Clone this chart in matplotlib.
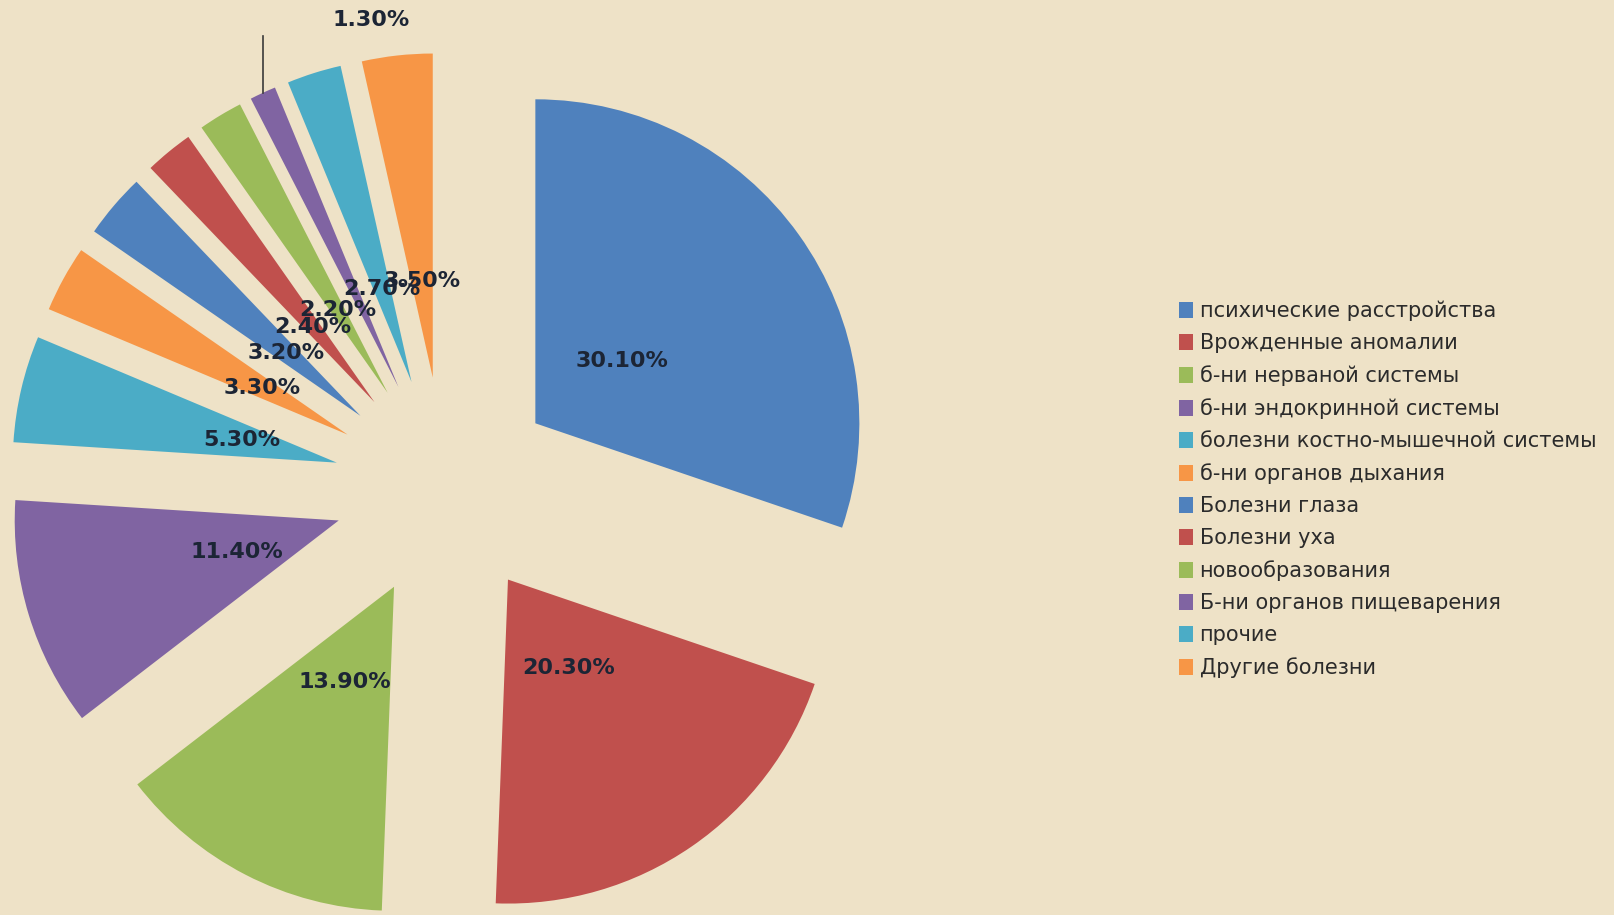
import numpy as np
import matplotlib
matplotlib.use('Agg')
import matplotlib.pyplot as plt
from matplotlib.patches import Patch

labels = ['психические расстройства', 'Врожденные аномалии', 'б-ни нерваной системы',
          'б-ни эндокринной системы', 'болезни костно-мышечной системы',
          'б-ни органов дыхания', 'Болезни глаза', 'Болезни уха', 'новообразования',
          'Б-ни органов пищеварения', 'прочие', 'Другие болезни']
values = [30.1, 20.3, 13.9, 11.4, 5.3, 3.3, 3.2, 2.4, 2.2, 1.3, 2.7, 3.5]
colors = ['#4F81BD', '#C0504D', '#9BBB59', '#8064A2', '#4BACC6', '#F79646'] * 2

W, H = 1614, 915
bg = '#EEE2C7'
fig = plt.figure(figsize=(W / 100, H / 100), dpi=100, facecolor=bg)

# pie centre and radius in pixels
cx, cy, R = 445, 488, 324
half = 1.6
ax = fig.add_axes([(cx - half * R) / W, 1 - (cy + half * R) / H, 2 * half * R / W, 2 * half * R / H])
ax.set_facecolor('none')

wedges, _ = ax.pie(values, colors=colors, startangle=90, counterclock=False,
                   explode=[0.343] * len(values), radius=1.0,
                   wedgeprops=dict(linewidth=0))
ax.set_xlim(-half, half)
ax.set_ylim(-half, half)
ax.axis('off')

txt_kw = dict(fontsize=16, fontweight='bold', color='#1C2535', ha='center', va='center')
for i, (w, v) in enumerate(zip(wedges, values)):
    mid = np.deg2rad((w.theta1 + w.theta2) / 2)
    x0, y0 = w.center
    s = '%.2f%%' % v
    if v == 1.3:
        # leader line to outside label
        ex, ey = x0 + np.cos(mid), y0 + np.sin(mid)
        ax.plot([ex, ex], [ey, ey + 0.175], color='#3a3a3a', lw=1.2, clip_on=False)
        ax.text(ex + 0.335, ey + 0.225, s, clip_on=False, **txt_kw)
        continue
    d = 0.33 if v > 10 else 0.3
    ax.text(x0 + d * np.cos(mid), y0 + d * np.sin(mid), s, **txt_kw)

handles = [Patch(facecolor=c, edgecolor='none') for c in colors]
fig.legend(handles, labels, loc='upper left', bbox_to_anchor=(1160 / W, 1 - 282 / H),
           frameon=False, fontsize=15, handlelength=0.7, handleheight=0.8,
           handletextpad=0.3, labelspacing=0.58, labelcolor='#2b2b2b')

fig.savefig('out.png', dpi=100, facecolor=bg)
